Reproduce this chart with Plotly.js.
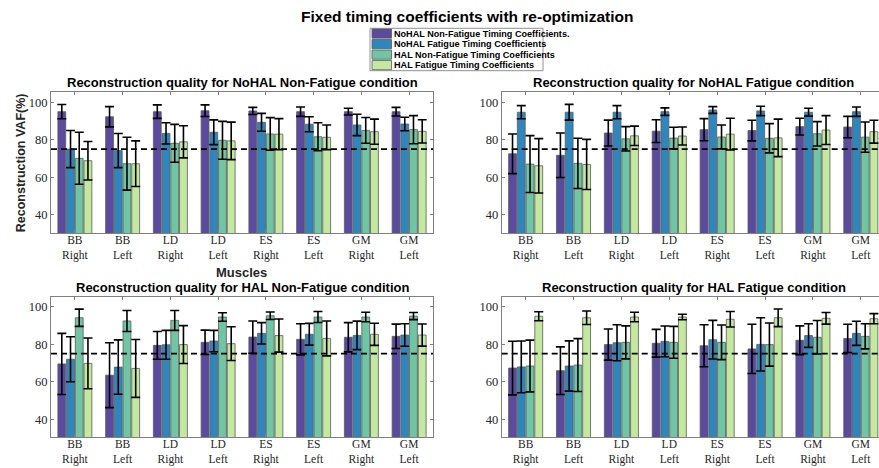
<!DOCTYPE html>
<html>
<head>
<meta charset="utf-8">
<script src="https://cdn.plot.ly/plotly-3.0.1.min.js"></script>
<style>html,body{margin:0;padding:0;background:#fff}#chart{width:879px;height:468px}</style>
</head>
<body>
<div id="chart"></div>
<script>
// ---- data ----
const muscles = ['BB<br>Right','BB<br>Left','LD<br>Right','LD<br>Left','ES<br>Right','ES<br>Left','GM<br>Right','GM<br>Left'];
const musclePos = [1,2,3,4,5,6,7,8];
const seriesNames = ['NoHAL Non-Fatigue Timing Coefficients.','NoHAL Fatigue Timing Coefficients','HAL Non-Fatigue Timing Coefficients','HAL Fatigue Timing Coefficients'];
const panelTitles = ['Reconstruction quality for NoHAL Non-Fatigue condition','Reconstruction quality for NoHAL Fatigue condition','Reconstruction quality for HAL Non-Fatigue condition','Reconstruction quality for HAL Fatigue condition'];
const threshold = 75;
const yTicks = [40,60,80,100];

// NoHAL Non-Fatigue condition
const p1Mean = [
  [95.0, 92.3, 95.0, 95.5, 95.4, 95.0, 95.0, 95.0],
  [75.0, 74.2, 83.4, 84.0, 89.3, 88.3, 87.9, 88.4],
  [70.1, 67.2, 78.1, 79.7, 83.1, 81.6, 85.0, 85.4],
  [68.8, 67.2, 78.9, 79.4, 83.0, 81.3, 84.3, 84.5]];
const p1Sd = [
  [3.8, 5.4, 3.6, 3.1, 1.9, 2.5, 1.8, 2.3],
  [9.9, 9.1, 5.7, 6.6, 4.8, 4.0, 5.7, 3.6],
  [13.9, 14.1, 10.1, 10.1, 8.7, 7.5, 6.9, 7.5],
  [10.3, 12.2, 8.6, 10.0, 8.3, 6.6, 6.7, 6.2]];
// NoHAL Fatigue condition
const p2Mean = [
  [72.5, 71.7, 83.6, 84.6, 85.4, 84.9, 87.0, 86.8],
  [94.7, 94.7, 94.7, 95.0, 95.9, 95.4, 94.7, 95.0],
  [67.0, 67.4, 80.5, 80.9, 81.5, 80.8, 83.2, 81.4],
  [66.1, 66.8, 82.1, 82.0, 83.0, 81.0, 85.2, 84.3]];
const p2Sd = [
  [10.6, 11.9, 6.9, 6.1, 5.9, 5.5, 4.5, 5.7],
  [3.5, 4.2, 3.5, 2.0, 1.8, 2.5, 2.1, 2.5],
  [15.2, 13.4, 6.5, 5.8, 6.4, 7.8, 6.5, 8.1],
  [14.5, 13.4, 5.2, 4.8, 8.5, 10.0, 7.7, 6.1]];
// HAL Non-Fatigue condition
const p3Mean = [
  [69.5, 63.5, 79.4, 81.0, 83.8, 82.6, 83.7, 84.2],
  [72.0, 67.8, 79.7, 81.7, 85.8, 85.3, 84.7, 84.9],
  [94.1, 92.4, 92.7, 94.5, 95.2, 94.5, 94.5, 95.0],
  [69.8, 67.1, 79.8, 80.3, 84.6, 83.1, 85.3, 84.9]];
const p3Sd = [
  [16.3, 17.3, 7.4, 6.5, 8.6, 8.3, 7.8, 6.5],
  [12.0, 14.5, 7.7, 5.7, 5.7, 5.8, 7.6, 6.0],
  [4.6, 5.6, 5.3, 2.3, 2.0, 2.9, 2.5, 1.9],
  [13.5, 15.4, 10.1, 9.0, 8.8, 9.3, 5.9, 5.9]];
// HAL Fatigue condition
const p4Mean = [
  [67.3, 65.9, 79.8, 80.5, 79.2, 77.5, 82.1, 83.1],
  [67.9, 68.4, 80.8, 81.5, 82.4, 79.9, 84.6, 85.8],
  [68.4, 68.9, 81.0, 81.0, 81.0, 79.8, 83.7, 84.2],
  [94.9, 94.1, 94.5, 94.5, 93.3, 94.1, 93.8, 93.6]];
const p4Sd = [
  [14.3, 12.7, 8.3, 7.4, 11.2, 13.1, 7.7, 7.5],
  [13.8, 13.4, 9.6, 8.2, 10.3, 14.2, 6.3, 6.4],
  [13.8, 14.1, 8.8, 8.5, 9.2, 11.5, 8.9, 6.7],
  [2.4, 3.6, 2.5, 1.5, 4.1, 4.7, 3.1, 2.7]];

// ---- styles ----
const colors = ['#5B4A9E','#2F86BD','#70C6A4','#C4E8A0'];
const W = 879, H = 468;
const serif = 'Liberation Serif, DejaVu Serif, serif';
const sans = 'Liberation Sans, Arial, sans-serif';
const textCol = '#262626';
const lineCol = '#808080';

const panels = [
  {mean:p1Mean, sd:p1Sd, xa:'x',  ya:'y',  px:[51,433],    py:[92,233],    xr:[0.5,8.5],  yr:[30.2,105.5], right:false, tcx:242,   tcy:82.3},
  {mean:p2Mean, sd:p2Sd, xa:'x2', ya:'y2', px:[501.7,879], py:[92,233],    xr:[0.5,8.38], yr:[30.2,105.5], right:true,  tcx:693.6, tcy:82.3},
  {mean:p3Mean, sd:p3Sd, xa:'x3', ya:'y3', px:[51,433],    py:[297.3,437.3], xr:[0.5,8.5],  yr:[30.4,105],   right:false, tcx:242.3, tcy:287.7},
  {mean:p4Mean, sd:p4Sd, xa:'x4', ya:'y4', px:[501.7,879], py:[297.3,437.3], xr:[0.5,8.38], yr:[30.4,105],   right:true,  tcx:693.7, tcy:287.7}
];

const traces = [];
const layout = {
  width: W, height: H,
  margin: {l:0, r:0, t:0, b:0},
  paper_bgcolor: '#fff', plot_bgcolor: '#fff',
  barmode: 'group', bargap: 0.27, bargroupgap: 0.1,
  showlegend: false,
  font: {family: serif, color: textCol},
  shapes: [], annotations: []
};

panels.forEach((p, pi) => {
  for (let s = 0; s < 4; s++) {
    traces.push({
      type: 'bar', name: seriesNames[s], x: musclePos, y: p.mean[s],
      xaxis: p.xa, yaxis: p.ya,
      marker: {color: colors[s], line: {color: '#5a5a5a', width: 0.8}},
      error_y: {type: 'data', array: p.sd[s], visible: true, color: '#000', thickness: 1.6, width: 4.5},
      hoverinfo: 'x+y'
    });
  }
  const n = pi === 0 ? '' : String(pi + 1);
  layout['xaxis' + n] = {
    domain: [p.px[0]/W, p.px[1]/W], range: p.xr, anchor: 'y' + n,
    tickvals: musclePos, ticktext: muscles,
    ticks: 'inside', ticklen: 3, tickcolor: lineCol, ticklabelstandoff: -4,
    showline: true, linecolor: lineCol, linewidth: 1, mirror: 'ticks',
    showgrid: false, zeroline: false, fixedrange: true,
    tickfont: {family: serif, size: 11.5, color: textCol}
  };
  layout['yaxis' + n] = {
    domain: [1 - p.py[1]/H, 1 - p.py[0]/H], range: p.yr, anchor: 'x' + n,
    tickvals: yTicks,
    ticks: 'inside', ticklen: 3, tickcolor: lineCol,
    showline: true, linecolor: lineCol, linewidth: 1, mirror: p.right ? false : 'ticks',
    showgrid: false, zeroline: false, fixedrange: true,
    tickfont: {family: serif, size: 12.5, color: textCol}
  };
  layout.shapes.push({
    type: 'line', xref: p.xa + ' domain', yref: p.ya, x0: 0, x1: 1, y0: threshold, y1: threshold,
    line: {color: '#000', width: 1.6, dash: '6px,4px'}, layer: 'above'
  });
  layout.annotations.push({
    text: panelTitles[pi], xref: 'paper', yref: 'paper', x: p.tcx/W, y: 1 - p.tcy/H,
    xanchor: 'center', yanchor: 'middle', showarrow: false,
    font: {family: sans, size: 13, weight: 'bold', color: '#000'}
  });
});

// main title
layout.annotations.push({
  text: 'Fixed timing coefficients with re-optimization', xref: 'paper', yref: 'paper',
  x: 466.7/W, y: 1 - 16.7/H, xanchor: 'center', yanchor: 'middle', showarrow: false,
  font: {family: sans, size: 15.5, weight: 'bold', color: '#000'}
});
// axis titles (top-left panel)
layout.annotations.push({
  text: 'Reconstruction VAF(%)', xref: 'paper', yref: 'paper',
  x: 20.7/W, y: 1 - 162.5/H, xanchor: 'center', yanchor: 'middle', textangle: -90, showarrow: false,
  font: {family: sans, size: 12.5, weight: 'bold', color: textCol}
});
layout.annotations.push({
  text: 'Muscles', xref: 'paper', yref: 'paper',
  x: 241.7/W, y: 1 - 272.8/H, xanchor: 'center', yanchor: 'middle', showarrow: false,
  font: {family: sans, size: 13, weight: 'bold', color: textCol}
});

// legend drawn manually
layout.shapes.push({
  type: 'rect', xref: 'paper', yref: 'paper',
  x0: 370/W, x1: 543/W, y0: 1 - 70.7/H, y1: 1 - 28.3/H,
  line: {color: '#909090', width: 1}, fillcolor: '#fff', layer: 'above'
});
seriesNames.forEach((nm, s) => {
  const cy = 33.6 + s * 10.5;
  layout.shapes.push({
    type: 'rect', xref: 'paper', yref: 'paper',
    x0: 372/W, x1: 391.5/W, y0: 1 - (cy + 4.6)/H, y1: 1 - (cy - 4.6)/H,
    line: {color: '#5a5a5a', width: 0.8}, fillcolor: colors[s], layer: 'above'
  });
  layout.annotations.push({
    text: nm, xref: 'paper', yref: 'paper', x: 392/W, y: 1 - cy/H,
    xanchor: 'left', yanchor: 'middle', showarrow: false,
    font: {family: sans, size: 9.1, weight: 'bold', color: '#000'}
  });
});

Plotly.newPlot('chart', traces, layout, {displayModeBar: false, staticPlot: true});
</script>
</body>
</html>
